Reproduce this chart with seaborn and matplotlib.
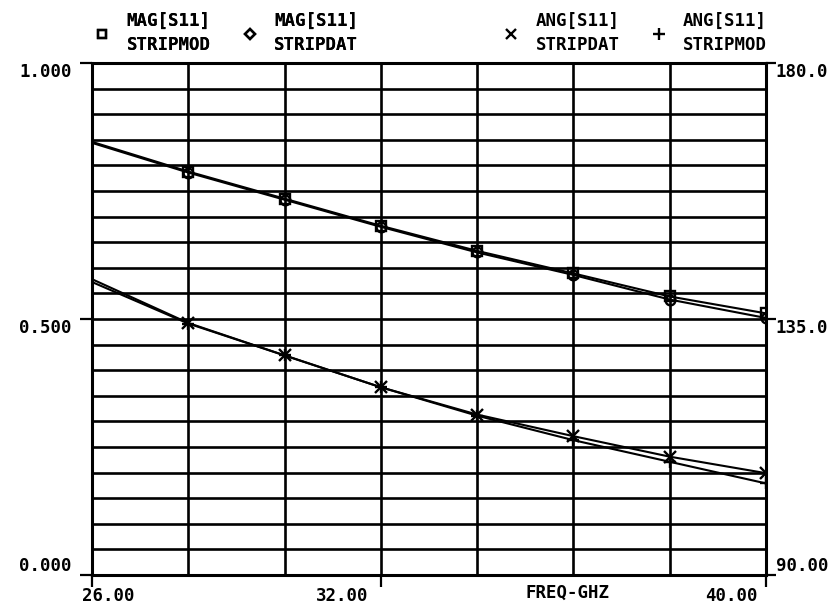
import matplotlib
matplotlib.use("Agg")
import matplotlib.pyplot as plt
import matplotlib.transforms as mtransforms
from matplotlib.lines import Line2D
from matplotlib.ticker import MultipleLocator
import seaborn as sns
import pandas as pd

# ---- data ----
freq_ghz = [26, 28, 30, 32, 34, 36, 38, 40]
mag_s11_stripmod = [0.846, 0.788, 0.735, 0.682, 0.633, 0.589, 0.544, 0.511]
mag_s11_stripdat = [0.844, 0.786, 0.733, 0.680, 0.630, 0.586, 0.538, 0.502]
ang_s11_stripdat = [142.0, 134.3, 128.6, 123.0, 118.2, 114.4, 110.8, 107.9]
ang_s11_stripmod = [141.5, 134.2, 128.6, 123.0, 118.0, 113.7, 109.9, 106.1]

x_tick_values = [26, 32, 40]
x_tick_labels = ["26.00", "32.00", "40.00"]
mag_tick_values = [0.0, 0.5, 1.0]
mag_tick_labels = ["0.000", "0.500", "1.000"]
ang_tick_values = [90, 135, 180]
ang_tick_labels = ["90.00", "135.0", "180.0"]

mag_legend = ["MAG[S11]\nSTRIPMOD", "MAG[S11]\nSTRIPDAT"]
ang_legend = ["ANG[S11]\nSTRIPDAT", "ANG[S11]\nSTRIPMOD"]
x_title = "FREQ-GHZ"

df = pd.DataFrame({
    "freq": freq_ghz,
    "mag_mod": mag_s11_stripmod,
    "mag_dat": mag_s11_stripdat,
    "ang_dat": ang_s11_stripdat,
    "ang_mod": ang_s11_stripmod,
})

sns.set_theme(style="white")
plt.rcParams["font.family"] = ["DejaVu Sans Mono", "DejaVu Sans"]
plt.rcParams["font.weight"] = "bold"
plt.rcParams["text.color"] = "black"
plt.rcParams["xtick.color"] = "black"
plt.rcParams["ytick.color"] = "black"
plt.rcParams["xtick.labelcolor"] = "black"
plt.rcParams["ytick.labelcolor"] = "black"
FS = 12.5

fig = plt.figure(figsize=(8.4, 6.07), dpi=100)
ax = fig.add_axes([92 / 840, 32 / 607, 674 / 840, 512 / 607])
ax.set_facecolor("white")

ax.set_xlim(26, 40)
ax.set_ylim(0, 1)
ax.xaxis.set_minor_locator(MultipleLocator(2))
ax.yaxis.set_minor_locator(MultipleLocator(0.05))
ax.grid(which="both", color="black", lw=1.9)
ax.set_axisbelow(True)
for s in ax.spines.values():
    s.set_visible(True)
    s.set_color("black")
    s.set_linewidth(2.2)

lw = 1.5
mk = dict(markerfacecolor="none", markeredgecolor="black", markeredgewidth=1.7, markersize=7)
sns.lineplot(data=df, x="freq", y="mag_mod", ax=ax, color="black", lw=lw,
             marker="s", markevery=list(range(1, len(freq_ghz))), **mk)
sns.lineplot(data=df, x="freq", y="mag_dat", ax=ax, color="black", lw=lw,
             marker="o", markevery=list(range(1, len(freq_ghz))), **mk)

ax.set_xticks(x_tick_values)
ax.set_xticklabels(x_tick_labels, fontsize=FS)
ax.set_yticks(mag_tick_values)
ax.set_yticklabels(mag_tick_labels, fontsize=FS)
ax.set_xlabel("")
ax.set_ylabel("")
ax.tick_params(which="minor", length=0)
ax.tick_params(axis="x", which="major", direction="out", length=8.6, width=1.6,
               color="black", labelcolor="black", pad=0, bottom=True)
ax.tick_params(axis="y", which="major", direction="out", length=8.6, width=1.6,
               color="black", labelcolor="black", pad=6, left=True)

ax2 = ax.twinx()
ax2.set_ylim(90, 180)
sns.lineplot(data=df, x="freq", y="ang_dat", ax=ax2, color="black", lw=lw,
             marker="x", markevery=list(range(1, len(freq_ghz))), markersize=8,
             markeredgewidth=1.7, markeredgecolor="black")
sns.lineplot(data=df, x="freq", y="ang_mod", ax=ax2, color="black", lw=lw,
             marker="+", markevery=list(range(1, len(freq_ghz))), markersize=9,
             markeredgewidth=1.7, markeredgecolor="black")
ax2.set_ylabel("")
ax2.grid(False)
ax2.set_yticks(ang_tick_values)
ax2.set_yticklabels(ang_tick_labels, fontsize=FS)
ax2.tick_params(axis="y", which="major", direction="out", length=7, width=1.6,
                color="black", labelcolor="black", pad=0, right=True)
for s in ax2.spines.values():
    s.set_visible(False)

# tick label alignment like the plotter output
ylabs = ax.get_yticklabels()
ylabs[0].set_verticalalignment("bottom")
ylabs[1].set_verticalalignment("top")
ylabs[2].set_verticalalignment("top")
rlabs = ax2.get_yticklabels()
rlabs[0].set_verticalalignment("bottom")
rlabs[1].set_verticalalignment("top")
rlabs[2].set_verticalalignment("top")

xlabs = ax.get_xticklabels()
xlabs[0].set_horizontalalignment("left")
xlabs[0].set_transform(xlabs[0].get_transform() +
                       mtransforms.ScaledTranslation(-0.10, 0, fig.dpi_scale_trans))
for lab, dx in zip(xlabs[1:], [-0.12, -0.08]):
    lab.set_horizontalalignment("right")
    lab.set_transform(lab.get_transform() +
                      mtransforms.ScaledTranslation(dx, 0, fig.dpi_scale_trans))

ax.text(0.706, -0.035, x_title, transform=ax.transAxes, ha="center", va="center",
        fontsize=FS, fontweight="bold", color="black")

# legends
def handle(marker, ms):
    return Line2D([], [], ls="none", marker=marker, markersize=ms,
                  markerfacecolor="none", markeredgecolor="black", markeredgewidth=1.7)

common = dict(ncol=2, loc="upper left", frameon=False, fontsize=FS,
              handlelength=0.6, handletextpad=1.1, columnspacing=1.95,
              borderaxespad=0.3)
leg1 = fig.legend([handle("s", 6), handle("D", 5)], mag_legend,
                  bbox_to_anchor=(85 / 840, 1.0), **common)
fig.add_artist(leg1)
leg2 = fig.legend([handle("x", 7), handle("+", 8)], ang_legend,
                  bbox_to_anchor=(494 / 840, 1.0), **common)
for lg in (leg1, leg2):
    for t in lg.get_texts():
        t.set_fontweight("bold")
        t.set_color("black")
        t.set_linespacing(1.45)

fig.savefig("out.png", dpi=100, facecolor="white")
